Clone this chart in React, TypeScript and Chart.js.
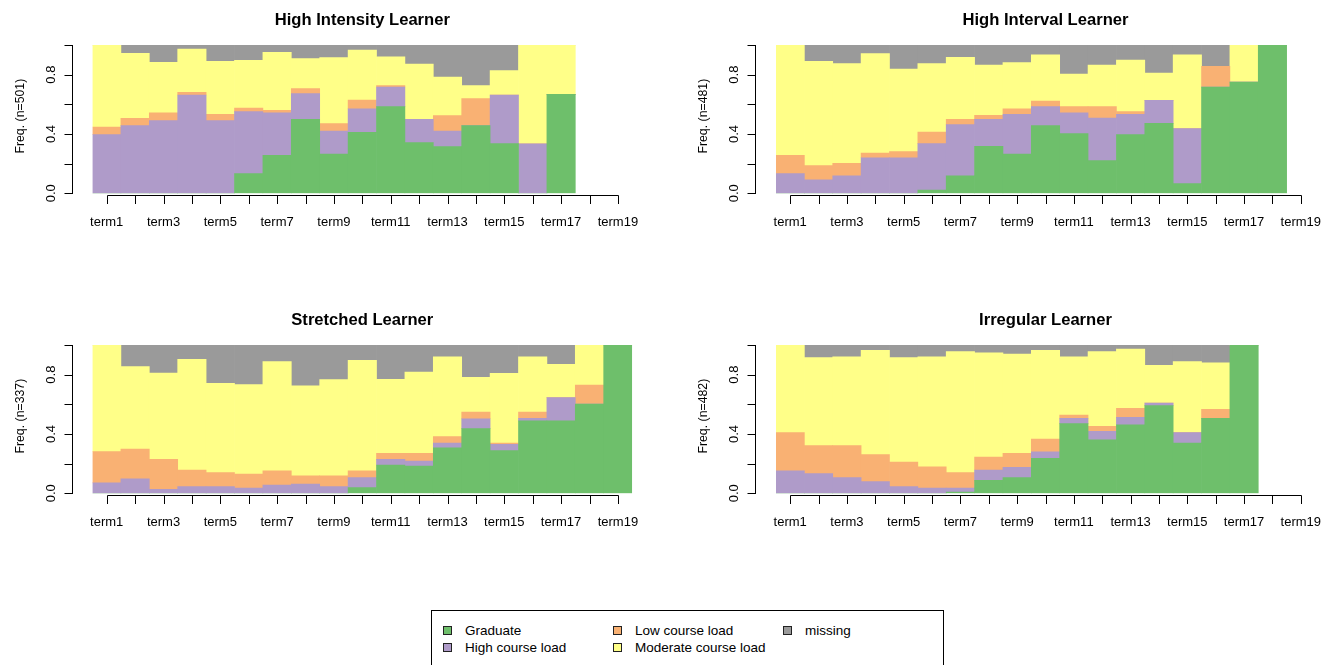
import React, { useEffect, useRef } from 'react';
import { Chart, registerables } from 'chart.js';

Chart.register(...registerables);

const FONT = '"Liberation Sans", Arial, Helvetica, sans-serif';

const terms = ['term1', 'term2', 'term3', 'term4', 'term5', 'term6', 'term7', 'term8', 'term9', 'term10',
  'term11', 'term12', 'term13', 'term14', 'term15', 'term16', 'term17', 'term18', 'term19'];

const stateNames = ['Graduate', 'High course load', 'Low course load', 'Moderate course load', 'missing'];
const stateColors = ['#6ebf6b', '#af9bc9', '#f9b173', '#ffff88', '#9a9a9a'];

const yTickValues = [0, 0.2, 0.4, 0.6, 0.8, 1.0];
const yTickLabels = ['0.0', '', '0.4', '', '0.8', ''];

// High Intensity Learner (n=501)
const hiIntGraduate = [0, 0, 0, 0, 0, 0.133, 0.256, 0.499, 0.265, 0.411, 0.584, 0.342, 0.315, 0.456, 0.335, 0, 0.667, null, null];
const hiIntHigh = [0.396, 0.456, 0.490, 0.663, 0.490, 0.418, 0.286, 0.173, 0.155, 0.158, 0.133, 0.157, 0.105, 0, 0.328, 0.333, 0, null, null];
const hiIntLow = [0.051, 0.050, 0.052, 0.018, 0.043, 0.024, 0.018, 0.034, 0.050, 0.060, 0.009, 0, 0.104, 0.182, 0, 0, 0, null, null];
const hiIntModerate = [0.553, 0.438, 0.341, 0.292, 0.357, 0.322, 0.391, 0.202, 0.445, 0.337, 0.195, 0.373, 0.260, 0.088, 0.164, 0.667, 0.333, null, null];
const hiIntMissing = [0, 0.056, 0.117, 0.027, 0.110, 0.103, 0.049, 0.092, 0.085, 0.034, 0.079, 0.128, 0.216, 0.274, 0.173, 0, 0, null, null];

// High Interval Learner (n=481)
const hiIvlGraduate = [0, 0, 0, 0, 0, 0.022, 0.117, 0.317, 0.265, 0.456, 0.402, 0.220, 0.396, 0.472, 0.065, 0.717, 0.750, 1, null];
const hiIvlHigh = [0.133, 0.090, 0.117, 0.240, 0.240, 0.313, 0.346, 0.182, 0.268, 0.128, 0.140, 0.288, 0.137, 0.155, 0.371, 0, 0, 0, null];
const hiIvlLow = [0.123, 0.097, 0.085, 0.032, 0.041, 0.078, 0.036, 0.027, 0.036, 0.038, 0.042, 0.076, 0.018, 0, 0, 0.139, 0, 0, null];
const hiIvlModerate = [0.744, 0.703, 0.672, 0.670, 0.557, 0.461, 0.418, 0.339, 0.312, 0.311, 0.220, 0.281, 0.348, 0.184, 0.497, 0, 0.250, 0, null];
const hiIvlMissing = [0, 0.110, 0.126, 0.058, 0.162, 0.126, 0.083, 0.135, 0.119, 0.067, 0.196, 0.135, 0.101, 0.189, 0.067, 0.144, 0, 0, null];

// Stretched Learner (n=337)
const strGraduate = [0, 0, 0, 0, 0, 0, 0, 0, 0, 0.038, 0.191, 0.184, 0.306, 0.436, 0.288, 0.488, 0.488, 0.602, 1];
const strHigh = [0.070, 0.097, 0.027, 0.045, 0.045, 0.036, 0.056, 0.063, 0.045, 0.068, 0.038, 0.034, 0.033, 0.067, 0.042, 0.018, 0.157, 0, 0];
const strLow = [0.211, 0.202, 0.202, 0.112, 0.094, 0.094, 0.095, 0.054, 0.072, 0.045, 0.041, 0.052, 0.043, 0.045, 0.009, 0.042, 0, 0.128, 0];
const strModerate = [0.719, 0.555, 0.582, 0.746, 0.603, 0.603, 0.737, 0.607, 0.649, 0.746, 0.499, 0.548, 0.539, 0.234, 0.470, 0.373, 0.225, 0.270, 0];
const strMissing = [0, 0.146, 0.189, 0.097, 0.258, 0.267, 0.112, 0.276, 0.234, 0.103, 0.231, 0.182, 0.079, 0.218, 0.191, 0.079, 0.130, 0, 0];

// Irregular Learner (n=482)
const irrGraduate = [0, 0, 0, 0, 0, 0, 0.009, 0.088, 0.106, 0.236, 0.470, 0.360, 0.461, 0.591, 0.339, 0.506, 1, null, null];
const irrHigh = [0.151, 0.133, 0.106, 0.079, 0.045, 0.036, 0.027, 0.069, 0.069, 0.043, 0.036, 0.058, 0.051, 0.018, 0.070, 0, 0, null, null];
const irrLow = [0.258, 0.188, 0.215, 0.182, 0.166, 0.142, 0.103, 0.088, 0.095, 0.087, 0.022, 0.034, 0.061, 0, 0, 0.060, 0, null, null];
const irrModerate = [0.591, 0.594, 0.600, 0.703, 0.704, 0.743, 0.816, 0.703, 0.669, 0.598, 0.393, 0.503, 0.400, 0.254, 0.479, 0.313, 0, null, null];
const irrMissing = [0, 0.085, 0.079, 0.036, 0.085, 0.079, 0.045, 0.052, 0.061, 0.036, 0.079, 0.045, 0.027, 0.137, 0.112, 0.121, 0, null, null];

type PanelDef = {
  title: string;
  ylab: string;
  series: (number | null)[][];
  left: number;
  top: number;
  padLeft: number;
  padRight: number;
};

const CW = 669;
const CH = 300;

const panels: PanelDef[] = [
  { title: 'High Intensity Learner', ylab: 'Freq. (n=501)', series: [hiIntGraduate, hiIntHigh, hiIntLow, hiIntModerate, hiIntMissing], left: 0, top: 0, padLeft: 92.5, padRight: 36.9 },
  { title: 'High Interval Learner', ylab: 'Freq. (n=481)', series: [hiIvlGraduate, hiIvlHigh, hiIvlLow, hiIvlModerate, hiIvlMissing], left: 669, top: 0, padLeft: 107, padRight: 23 },
  { title: 'Stretched Learner', ylab: 'Freq. (n=337)', series: [strGraduate, strHigh, strLow, strModerate, strMissing], left: 0, top: 300, padLeft: 92.5, padRight: 36.9 },
  { title: 'Irregular Learner', ylab: 'Freq. (n=482)', series: [irrGraduate, irrHigh, irrLow, irrModerate, irrMissing], left: 669, top: 300, padLeft: 107, padRight: 23 },
];

function rAxesPlugin(title: string, ylab: string) {
  return {
    id: 'rAxes',
    afterDraw(chart: any) {
      const ctx = chart.ctx as CanvasRenderingContext2D;
      const xs = chart.scales.x;
      const ys = chart.scales.y;
      const a = chart.chartArea;
      ctx.save();
      ctx.strokeStyle = '#000';
      ctx.fillStyle = '#000';
      ctx.lineWidth = 1;

      // y axis
      const yAxisX = Math.round(a.left - 21) + 0.5;
      ctx.beginPath();
      ctx.moveTo(yAxisX, ys.getPixelForValue(0));
      ctx.lineTo(yAxisX, ys.getPixelForValue(1));
      yTickValues.forEach((v) => {
        const py = Math.round(ys.getPixelForValue(v)) + 0.5;
        ctx.moveTo(yAxisX + 0.5, py);
        ctx.lineTo(yAxisX - 8, py);
      });
      ctx.stroke();

      ctx.font = `13px ${FONT}`;
      ctx.textAlign = 'center';
      ctx.textBaseline = 'alphabetic';
      yTickValues.forEach((v, i) => {
        const lab = yTickLabels[i];
        if (!lab) return;
        ctx.save();
        ctx.translate(yAxisX - 18, ys.getPixelForValue(v));
        ctx.rotate(-Math.PI / 2);
        ctx.fillText(lab, 0, 0);
        ctx.restore();
      });

      // y label
      ctx.save();
      ctx.font = `12.3px ${FONT}`;
      ctx.translate(yAxisX - 48.5, (a.top + a.bottom) / 2 - 3);
      ctx.rotate(-Math.PI / 2);
      ctx.fillText(ylab, 0, 0);
      ctx.restore();

      // x axis
      const xAxisY = Math.floor(a.bottom + 2.4) + 0.5;
      const x0 = xs.getPixelForValue(0);
      const x1 = xs.getPixelForValue(terms.length - 1);
      ctx.beginPath();
      ctx.moveTo(Math.round(x0) + 0.5, xAxisY);
      ctx.lineTo(Math.round(x1) + 0.5, xAxisY);
      terms.forEach((_, i) => {
        const px = Math.round(xs.getPixelForValue(i)) + 0.5;
        ctx.moveTo(px, xAxisY);
        ctx.lineTo(px, xAxisY + 8.5);
      });
      ctx.stroke();

      ctx.font = `13px ${FONT}`;
      terms.forEach((t, i) => {
        if (i % 2 !== 0) return;
        ctx.fillText(t, xs.getPixelForValue(i), a.bottom + 33);
      });

      // title
      ctx.font = `bold 16.6px ${FONT}`;
      ctx.fillText(title, (x0 + x1) / 2, a.top - 20.5);
      ctx.restore();
    },
  };
}

function Panel({ def }: { def: PanelDef }) {
  const ref = useRef<HTMLCanvasElement | null>(null);
  useEffect(() => {
    if (!ref.current) return;
    const chart = new Chart(ref.current, {
      type: 'bar',
      data: {
        labels: terms,
        datasets: def.series.map((s, i) => ({
          label: stateNames[i],
          data: s as any,
          backgroundColor: stateColors[i],
          borderWidth: 0,
          categoryPercentage: 1,
          barPercentage: 1,
        })),
      },
      options: {
        responsive: false,
        animation: false,
        layout: { padding: { left: def.padLeft, right: def.padRight, top: 45, bottom: CH - 193.3 } },
        plugins: { legend: { display: false }, tooltip: { enabled: false }, title: { display: false } },
        scales: {
          x: { stacked: true, display: false, offset: true, grid: { display: false } },
          y: { stacked: true, display: false, min: 0, max: 1 },
        },
      },
      plugins: [rAxesPlugin(def.title, def.ylab)],
    });
    return () => chart.destroy();
  }, [def]);
  return (
    <canvas
      ref={ref}
      width={CW}
      height={CH}
      style={{ position: 'absolute', left: def.left, top: def.top, width: CW, height: CH }}
    />
  );
}

const legendCols = [442.7, 612.7, 782.7];
const legendRows = [626, 643];
const legendLayout = [
  [0, 0], // Graduate
  [0, 1], // High course load
  [1, 0], // Low course load
  [1, 1], // Moderate course load
  [2, 0], // missing
];

export default function App() {
  return (
    <div style={{ position: 'absolute', left: 0, top: 0, width: 1338, height: 665, background: '#fff', overflow: 'hidden', fontFamily: FONT }}>
      {panels.map((p) => (
        <Panel key={p.title} def={p} />
      ))}
      <div
        style={{
          position: 'absolute',
          left: 431,
          top: 610,
          width: 513,
          height: 80,
          border: '1px solid #000',
          boxSizing: 'border-box',
        }}
      />
      {stateNames.map((name, i) => {
        const [c, r] = legendLayout[i];
        const sx = legendCols[c];
        const sy = legendRows[r];
        return (
          <React.Fragment key={name}>
            <div
              style={{
                position: 'absolute',
                left: Math.round(sx),
                top: sy,
                width: 9,
                height: 9,
                background: stateColors[i],
                border: '1px solid #222',
                boxSizing: 'border-box',
              }}
            />
            <div
              style={{
                position: 'absolute',
                left: Math.round(sx) + 22,
                top: sy - 3,
                fontSize: 13.5,
                lineHeight: '15px',
                color: '#000',
                whiteSpace: 'nowrap',
              }}
            >
              {name}
            </div>
          </React.Fragment>
        );
      })}
    </div>
  );
}
